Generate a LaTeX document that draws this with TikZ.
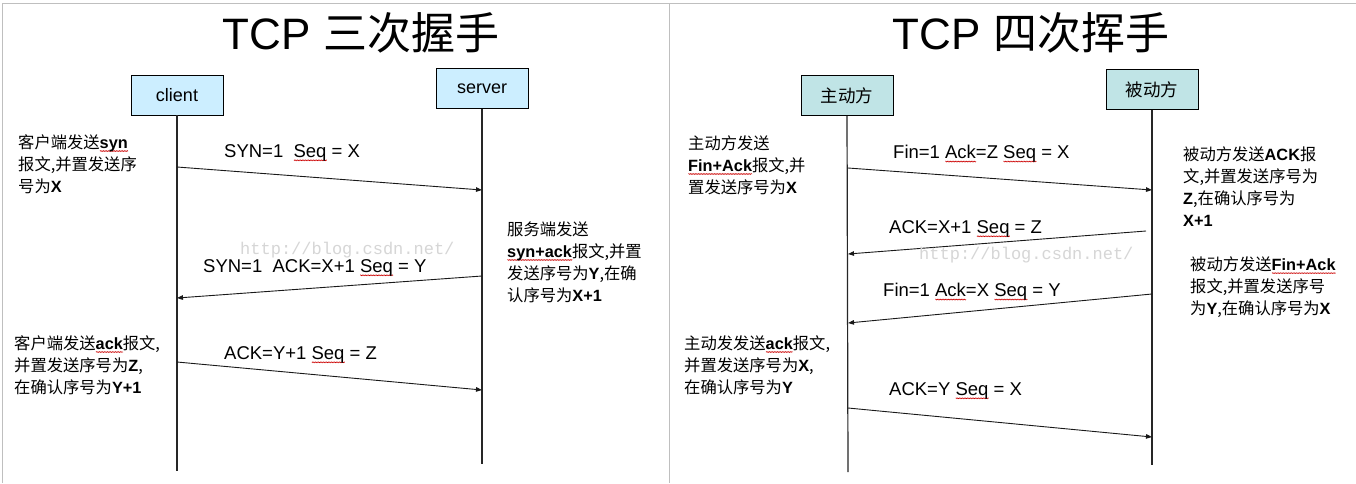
\documentclass[tikz,border=0pt]{standalone}
\usepackage{fontspec}
\setmainfont{Liberation Sans}
\newfontfamily\cjk{Noto Sans CJK SC}
\newfontfamily\wmfont{Liberation Mono}
\usetikzlibrary{arrows.meta,decorations.pathmorphing}
\definecolor{cliblue}{HTML}{CCEEFF}
\definecolor{tealbox}{HTML}{C0E4E6}
\newcommand\bl[1]{{\rmfamily\bfseries #1}}
\newsavebox\sqbox
\newcommand\sqw[1]{\sbox\sqbox{#1}\rlap{\raisebox{-3.5pt}{\tikz\draw[red!80!black,line width=0.45pt,decorate,decoration={zigzag,amplitude=0.5pt,segment length=1.6pt}] (0pt,0pt) -- (\wd\sqbox,0pt);}}\usebox\sqbox}
\begin{document}
\begin{tikzpicture}[x=1pt,y=-1pt,
  box/.style={draw=black, line width=0.8pt, minimum width=92pt, minimum height=40pt, inner sep=0, font=\fontsize{18}{20}\selectfont},
  cbox/.style={box, fill=cliblue},
  tbox/.style={box, fill=tealbox, font=\cjk\fontsize{17.5}{20}\selectfont},
  life/.style={line width=1.2pt, draw=black!85},
  msg/.style={line width=0.9pt, draw=black!90, -{Triangle[length=6pt,width=4.5pt]}},
  lbl/.style={anchor=west, inner sep=0, font=\fontsize{18.5}{20}\selectfont},
  note/.style={anchor=west, inner sep=0, align=left, font=\cjk\fontsize{16.3}{22}\selectfont},
  ttl/.style={inner sep=0, font=\fontsize{44}{48}\selectfont},
  wmk/.style={anchor=west, inner sep=0, text=black!16, font=\wmfont\fontsize{17}{18}\selectfont},
  frameline/.style={draw=black!25, line width=1pt}]
\useasboundingbox (0,0) rectangle (1356,483);
\fill[white] (0,0) rectangle (1356,483);
% frame
\coordinate (ftl) at (2,3);
\coordinate (ftr) at (1356,3);
\coordinate (fbl) at (2,483);
\coordinate (dtop) at (669,3);
\coordinate (dbot) at (669,483);
\draw[frameline] (fbl) -- (ftl) -- (ftr);
\draw[frameline] (dtop) -- (dbot);

% ===== left: three-way handshake =====
\node[ttl] (t1) at (361,33) {TCP {\cjk 三次握手}};
\node[cbox] (client) at (177,95) {client};
\node[cbox] (server) at (482,88.5) {server};
\coordinate (cend) at (177,471);
\coordinate (send) at (482,464);
\draw[life] (client.south) -- (cend);
\draw[life] (server.south) -- (send);

\coordinate (a1s) at (177,167);
\coordinate (a1e) at (482,190);
\coordinate (a2s) at (482,276);
\coordinate (a2e) at (177,298);
\coordinate (a3s) at (177,362);
\coordinate (a3e) at (482,390);
\draw[msg] (a1s) -- (a1e);
\draw[msg] (a2s) -- (a2e);
\draw[msg] (a3s) -- (a3e);

\node[lbl] (l1) at (224,153) {SYN=1\ \ \sqw{Seq} = X};
\node[lbl] (l2) at (203,268) {SYN=1\ \ ACK=X+1 \sqw{Seq} = Y};
\node[lbl] (l3) at (224,355) {ACK=Y+1 \sqw{Seq} = Z};

\node[note] (n1) at (18,164) {客户端发送\bl{\sqw{syn}}\\报文,并置发送序\\号为\bl{X}};
\node[note] (n2) at (507,262) {服务端发送\\\bl{\sqw{syn+ack}}报文,并置\\发送序号为\bl{Y},在确\\认序号为\bl{X+1}};
\node[note] (n3) at (14,365) {客户端发送\bl{\sqw{ack}}报文,\\并置发送序号为\bl{Z},\\在确认序号为\bl{Y+1}};

\node[wmk] (w1) at (240,250) {http://blog.csdn.net/};

% ===== right: four-way wave =====
\node[ttl] (t2) at (1031,33) {TCP {\cjk 四次挥手}};
\node[tbox] (act) at (847,95.5) {主动方};
\node[tbox] (pas) at (1152,89.5) {被动方};
\coordinate (aend) at (848,472);
\coordinate (pend) at (1152,465);
\draw[life] (act.south) -- (aend);
\draw[life] (pas.south) -- (pend);

\coordinate (b1s) at (848,168);
\coordinate (b1e) at (1152,190);
\coordinate (b2s) at (1146,231);
\coordinate (b2e) at (848,254);
\coordinate (b3s) at (1152,294);
\coordinate (b3e) at (848,323);
\coordinate (b4s) at (848,408);
\coordinate (b4e) at (1152,437);
\draw[msg] (b1s) -- (b1e);
\draw[msg] (b2s) -- (b2e);
\draw[msg] (b3s) -- (b3e);
\draw[msg] (b4s) -- (b4e);

\node[lbl] (r1) at (893,154) {Fin=1 \sqw{Ack}=Z \sqw{Seq} = X};
\node[lbl] (r2) at (889,229) {ACK=X+1 \sqw{Seq} = Z};
\node[lbl] (r3) at (883,292) {Fin=1 \sqw{Ack}=X \sqw{Seq} = Y};
\node[lbl] (r4) at (889,391) {ACK=Y \sqw{Seq} = X};

\node[note] (m1) at (688,165) {主动方发送\\\bl{\sqw{Fin+Ack}}报文,并\\置发送序号为\bl{X}};
\node[note] (m2) at (1183,187) {被动方发送\bl{ACK}报\\文,并置发送序号为\\\bl{Z},在确认序号为\\\bl{X+1}};
\node[note] (m3) at (1190,287) {被动方发送\bl{\sqw{Fin+Ack}}\\报文,并置发送序号\\为\bl{Y},在确认序号为\bl{X}};
\node[note] (m4) at (684,365) {主动发发送\bl{\sqw{ack}}报文,\\并置发送序号为\bl{X},\\在确认序号为\bl{Y}};

\node[wmk] (w2) at (919,255) {http://blog.csdn.net/};
\end{tikzpicture}
\end{document}
